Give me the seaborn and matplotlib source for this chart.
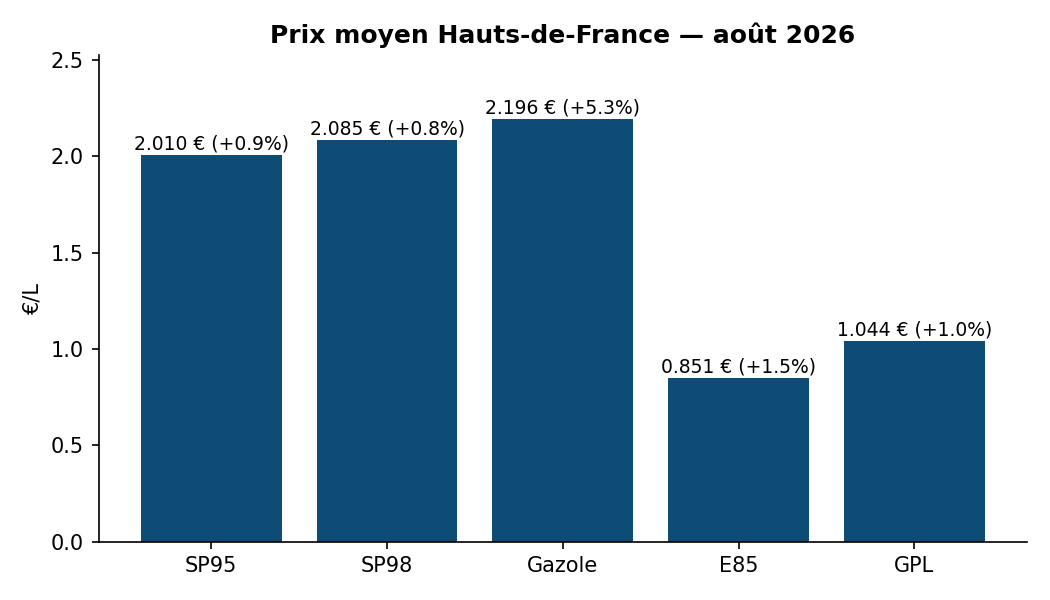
import matplotlib
matplotlib.use("Agg")
import matplotlib.pyplot as plt
import seaborn as sns
import pandas as pd

categories = ["SP95", "SP98", "Gazole", "E85", "GPL"]
prices = [2.010, 2.085, 2.196, 0.851, 1.044]
changes = [0.9, 0.8, 5.3, 1.5, 1.0]

plt.rcParams['font.family'] = ['DejaVu Sans']

df = pd.DataFrame({"carburant": categories, "prix": prices})
fig, ax = plt.subplots(figsize=(7, 4), dpi=150)
sns.barplot(data=df, x="carburant", y="prix", color="#0f4c75", saturation=1,
            width=0.8, linewidth=0, ax=ax)
for i, (p, c) in enumerate(zip(prices, changes)):
    ax.annotate(f"{p:.3f} € (+{c:.1f}%)", xy=(i, p), xytext=(0, 0.6),
                textcoords="offset points", ha="center", va="bottom",
                fontsize=9, color="black")
ax.set_xlim(-0.64, len(categories) - 1 + 0.64)
ax.set_ylim(0, max(prices) * 1.15)
ax.set_xlabel("")
ax.set_ylabel("€/L", fontsize=10)
ax.set_title("Prix moyen Hauts-de-France — août 2026", fontsize=12, fontweight="bold")
ax.tick_params(labelsize=10)
sns.despine(ax=ax)
fig.subplots_adjust(left=0.094, right=0.978, top=0.908, bottom=0.097)
fig.savefig("out.png", dpi=150)
